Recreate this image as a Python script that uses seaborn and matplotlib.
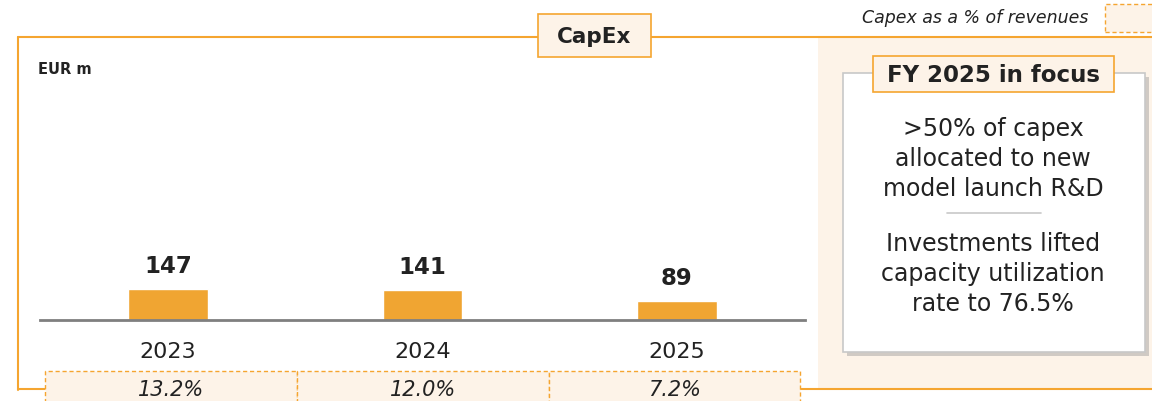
import matplotlib
matplotlib.use("Agg")
import matplotlib.pyplot as plt
import seaborn as sns
import pandas as pd
from matplotlib.patches import Rectangle
from matplotlib.lines import Line2D

# ---- data ----
years = ["2023", "2024", "2025"]
capex = [147, 141, 89]
pct_labels = ["13.2%", "12.0%", "7.2%"]
title = "CapEx"
unit = "EUR m"
legend_text = "Capex as a % of revenues"
focus_title = "FY 2025 in focus"
focus_points = [">50% of capex\nallocated to new\nmodel launch R&D",
                "Investments lifted\ncapacity utilization\nrate to 76.5%"]

sns.set_theme(style="white")
plt.rcParams['font.family'] = ['DejaVu Sans']

W, H = 1152, 402
ORANGE = "#F0A532"
LINE_OR = "#F5A530"
PEACH = "#FDF3E8"
DARK = "#222222"

fig = plt.figure(figsize=(W / 100, H / 100), dpi=100)
fig.patch.set_facecolor("white")
tf = fig.transFigure


def fx(x):
    return x / W


def fy(y):
    return (H - y) / H


def rect(x0, y0, x1, y1, **kw):
    r = Rectangle((fx(x0), fy(y1)), fx(x1) - fx(x0), fy(y0) - fy(y1), transform=tf, **kw)
    fig.add_artist(r)
    return r


def hline(x0, x1, y, **kw):
    fig.add_artist(Line2D([fx(x0), fx(x1)], [fy(y), fy(y)], transform=tf, **kw))


def vline(x, y0, y1, **kw):
    fig.add_artist(Line2D([fx(x), fx(x)], [fy(y0), fy(y1)], transform=tf, **kw))


# right peach panel
rect(818, 38, 1152, 390, facecolor=PEACH, edgecolor="none", zorder=1)
# orange frame
hline(18, 1152, 38, color=LINE_OR, lw=1.5, zorder=2)
vline(18, 38, 391, color=LINE_OR, lw=1.5, zorder=2)
hline(18, 45, 390, color=LINE_OR, lw=1.5, zorder=2)
hline(800, 1152, 390, color=LINE_OR, lw=1.5, zorder=2)

# title box
rect(538, 15, 651, 58, facecolor=PEACH, edgecolor=LINE_OR, lw=1.2, zorder=3)
fig.text(fx(594.5), fy(37), title, ha="center", va="center", fontsize=15.5,
         fontweight="bold", color=DARK, zorder=4)

fig.text(fx(38), fy(70), unit, ha="left", va="center", fontsize=10.5,
         fontweight="bold", color=DARK)

# legend
fig.text(fx(1088), fy(18), legend_text, ha="right", va="center", fontsize=12.5,
         style="italic", color=DARK)
rect(1105, 5, 1156, 33, facecolor=PEACH, edgecolor=LINE_OR, lw=1.0,
     linestyle=(0, (3, 2)), zorder=3)

# ---- bar chart ----
ax = fig.add_axes([fx(40), fy(321), fx(805) - fx(40), fy(100) - fy(321)])
ax.patch.set_alpha(0)
df = pd.DataFrame({"year": years, "capex": capex})
sns.barplot(data=df, x="year", y="capex", color=ORANGE, saturation=1,
            width=0.314, ax=ax)
ax.set_xlim(-0.503, 2.503)
ax.set_ylim(0, 1048)
for s in ["top", "right", "left"]:
    ax.spines[s].set_visible(False)
ax.spines["bottom"].set_color("#7f7f7f")
ax.spines["bottom"].set_linewidth(2)
ax.set_yticks([])
ax.set_xlabel("")
ax.set_ylabel("")
ax.tick_params(axis="x", length=0, pad=15, labelsize=16, labelcolor=DARK)
ax.bar_label(ax.containers[0], labels=[str(v) for v in capex], padding=9,
             fontsize=16.5, fontweight="bold", color=DARK)

# percent row
xs_edges = [45, 297, 549, 800]
for i, lab in enumerate(pct_labels):
    rect(xs_edges[i], 372, xs_edges[i + 1], 410, facecolor=PEACH, edgecolor=LINE_OR,
         lw=1.0, linestyle=(0, (3, 2)), zorder=3)
    fig.text(fx((xs_edges[i] + xs_edges[i + 1]) / 2), fy(390), lab, ha="center",
             va="center", fontsize=15, style="italic", color=DARK, zorder=4)

# ---- focus panel ----
rect(847, 78, 1149, 357, facecolor="#9a9a9a", edgecolor="none", alpha=0.45, zorder=3)
rect(843, 74, 1145, 353, facecolor="white", edgecolor="#c8c8c8", lw=1.2, zorder=4)
rect(873, 57, 1114, 93, facecolor=PEACH, edgecolor=LINE_OR, lw=1.2, zorder=5)
fig.text(fx(993.5), fy(75), focus_title, ha="center", va="center", fontsize=16.5,
         fontweight="bold", color=DARK, zorder=6)
fig.text(fx(993), fy(159), focus_points[0], ha="center", va="center", fontsize=17,
         linespacing=1.29, color=DARK, zorder=6)
hline(947, 1041, 214, color="#c8c8c8", lw=1.2, zorder=6)
fig.text(fx(993), fy(274), focus_points[1], ha="center", va="center", fontsize=17,
         linespacing=1.29, color=DARK, zorder=6)

fig.savefig("out.png", dpi=100)
